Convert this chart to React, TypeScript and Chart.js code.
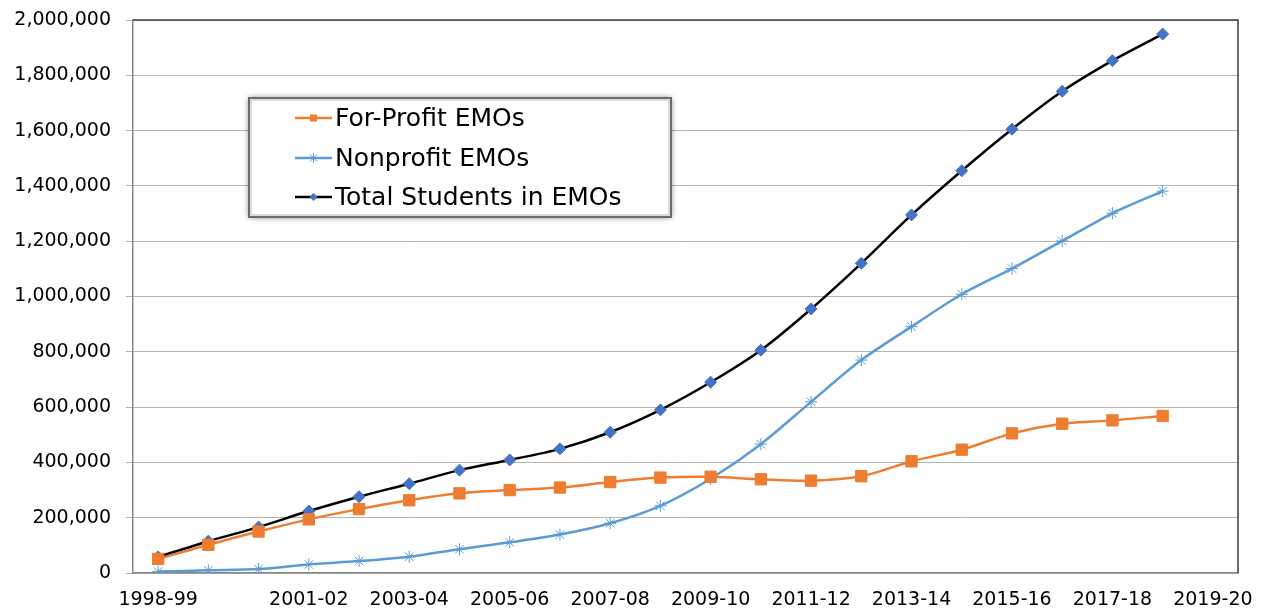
import React, { useEffect, useRef } from "react";
import { Chart, registerables } from "chart.js";

Chart.register(...registerables);

const seasons = [
  "1998-99", "1999-00", "2000-01", "2001-02", "2002-03", "2003-04", "2004-05",
  "2005-06", "2006-07", "2007-08", "2008-09", "2009-10", "2010-11", "2011-12",
  "2012-13", "2013-14", "2014-15", "2015-16", "2016-17", "2017-18", "2018-19",
  "2019-20",
];
const shownTickIndices = [0, 3, 5, 7, 9, 11, 13, 15, 17, 19, 21];

const forProfit = [
  51000, 102000, 150000, 194000, 231000, 263000, 288000, 300000, 309000, 329000,
  345000, 348000, 339000, 334000, 350000, 404000, 446000, 505000, 540000, 552000,
  568000,
];
const nonprofit = [
  5000, 10000, 14500, 31000, 43000, 59000, 86000, 111000, 139000, 180000,
  243000, 341000, 466000, 619000, 770000, 891000, 1008000, 1101000, 1201000,
  1301000, 1381000,
];
const totalStudents = [
  58000, 115000, 166000, 224000, 276000, 323000, 372000, 409000, 449000, 509000,
  590000, 690000, 806000, 955000, 1120000, 1295000, 1455000, 1605000, 1742000,
  1853000, 1949000,
];

const yMax = 2000000;
const yStep = 200000;

const FONT = "'DejaVu Sans', sans-serif";

const frameAndLegend = {
  id: "frameAndLegend",
  afterDraw(chart: any) {
    const ctx = chart.ctx;
    const a = chart.chartArea;
    ctx.save();
    ctx.strokeStyle = "#3c3c3c";
    ctx.lineWidth = 1.5;
    ctx.beginPath();
    ctx.moveTo(a.left, a.top);
    ctx.lineTo(a.right, a.top);
    ctx.lineTo(a.right, a.bottom);
    ctx.stroke();

    const bx = 249, by = 98, bw = 422, bh = 119;
    ctx.shadowColor = "rgba(0,0,0,0.55)";
    ctx.shadowBlur = 6;
    ctx.fillStyle = "#ffffff";
    ctx.fillRect(bx, by, bw, bh);
    ctx.shadowBlur = 0;
    ctx.shadowColor = "transparent";
    ctx.strokeStyle = "#6b6b6b";
    ctx.lineWidth = 2;
    ctx.strokeRect(bx, by, bw, bh);
    ctx.strokeStyle = "#b8b8b8";
    ctx.lineWidth = 1;
    ctx.strokeRect(bx + 2, by + 2, bw - 4, bh - 4);

    const rows = [118, 158, 197];
    chart.data.datasets.forEach((ds: any, i: number) => {
      const y = rows[i];
      ctx.strokeStyle = ds.borderColor;
      ctx.lineWidth = 2.5;
      ctx.beginPath();
      ctx.moveTo(295, y);
      ctx.lineTo(332, y);
      ctx.stroke();
      const style = ds.pointStyle;
      const r = 5;
      ctx.fillStyle = ds.pointBackgroundColor;
      ctx.strokeStyle = ds.pointBorderColor;
      ctx.lineWidth = 1;
      const cx = 313.5;
      if (style === "rect") {
        const s = 3.5;
        ctx.fillRect(cx - s, y - s, 2 * s, 2 * s);
      } else if (style === "rectRot") {
        ctx.beginPath();
        ctx.moveTo(cx, y - 4);
        ctx.lineTo(cx + 4, y);
        ctx.lineTo(cx, y + 4);
        ctx.lineTo(cx - 4, y);
        ctx.closePath();
        ctx.fill();
      } else if (style === "star") {
        ctx.beginPath();
        ctx.moveTo(cx, y - r);
        ctx.lineTo(cx, y + r);
        const d = r * Math.SQRT1_2;
        ctx.moveTo(cx - d, y - d);
        ctx.lineTo(cx + d, y + d);
        ctx.moveTo(cx - d, y + d);
        ctx.lineTo(cx + d, y - d);
        ctx.stroke();
      }
      ctx.fillStyle = "#000000";
      ctx.font = `25px ${FONT}`;
      ctx.textBaseline = "middle";
      ctx.textAlign = "left";
      ctx.fillText(ds.label, 335, y + 1);
    });
    ctx.restore();
  },
};

export default function App() {
  const canvasRef = useRef<HTMLCanvasElement | null>(null);

  useEffect(() => {
    if (!canvasRef.current) return;
    const chart = new Chart(canvasRef.current, {
      type: "line",
      data: {
        labels: seasons,
        datasets: [
          {
            label: "For-Profit EMOs",
            data: forProfit,
            borderColor: "#ED7D31",
            backgroundColor: "#ED7D31",
            pointStyle: "rect",
            pointRadius: 8,
            pointBackgroundColor: "#ED7D31",
            pointBorderColor: "#ED7D31",
            pointBorderWidth: 1,
            borderWidth: 2.5,
            tension: 0.3,
          },
          {
            label: "Nonprofit EMOs",
            data: nonprofit,
            borderColor: "#5B9BD5",
            backgroundColor: "#5B9BD5",
            pointStyle: "star",
            pointRadius: 6,
            pointBackgroundColor: "#5B9BD5",
            pointBorderColor: "#5B9BD5",
            pointBorderWidth: 1,
            borderWidth: 2.5,
            tension: 0.3,
          },
          {
            label: "Total Students in EMOs",
            data: totalStudents,
            borderColor: "#000000",
            backgroundColor: "#4472C4",
            pointStyle: "rectRot",
            pointRadius: 6,
            pointBackgroundColor: "#4472C4",
            pointBorderColor: "#4472C4",
            pointBorderWidth: 1,
            borderWidth: 2.5,
            tension: 0.3,
          },
        ],
      },
      options: {
        animation: false,
        responsive: true,
        maintainAspectRatio: false,
        layout: { padding: { top: 20, right: 29, left: 0, bottom: 0 } },
        plugins: {
          legend: { display: false },
          tooltip: { enabled: false },
        },
        scales: {
          x: {
            offset: true,
            grid: { display: false, drawTicks: false },
            border: { display: true, color: "#878787", width: 1.5 },
            ticks: {
              autoSkip: false,
              maxRotation: 0,
              minRotation: 0,
              padding: 16,
              color: "#000000",
              font: { family: FONT, size: 19 },
              callback: (_v: any, i: number) =>
                shownTickIndices.includes(i) ? seasons[i] : "",
            },
            afterFit: (scale: any) => {
              scale.height = 41;
              scale.paddingLeft = 0;
              scale.paddingRight = 0;
            },
          },
          y: {
            min: 0,
            max: yMax,
            grid: {
              color: "#b3b3b3",
              lineWidth: 1,
              tickLength: 7,
              tickColor: "#b3b3b3",
            },
            border: { display: true, color: "#878787", width: 1.5 },
            ticks: {
              stepSize: yStep,
              padding: 15,
              color: "#000000",
              font: { family: FONT, size: 19 },
              callback: (v: any) => Number(v).toLocaleString("en-US"),
            },
            afterFit: (scale: any) => {
              scale.width = 133;
              scale.paddingTop = 0;
              scale.paddingBottom = 0;
            },
          },
        },
      },
      plugins: [frameAndLegend],
    });
    return () => chart.destroy();
  }, []);

  return (
    <div style={{ position: "absolute", left: 0, top: 0, width: 1267, height: 614, background: "#fff" }}>
      <canvas ref={canvasRef} />
    </div>
  );
}
